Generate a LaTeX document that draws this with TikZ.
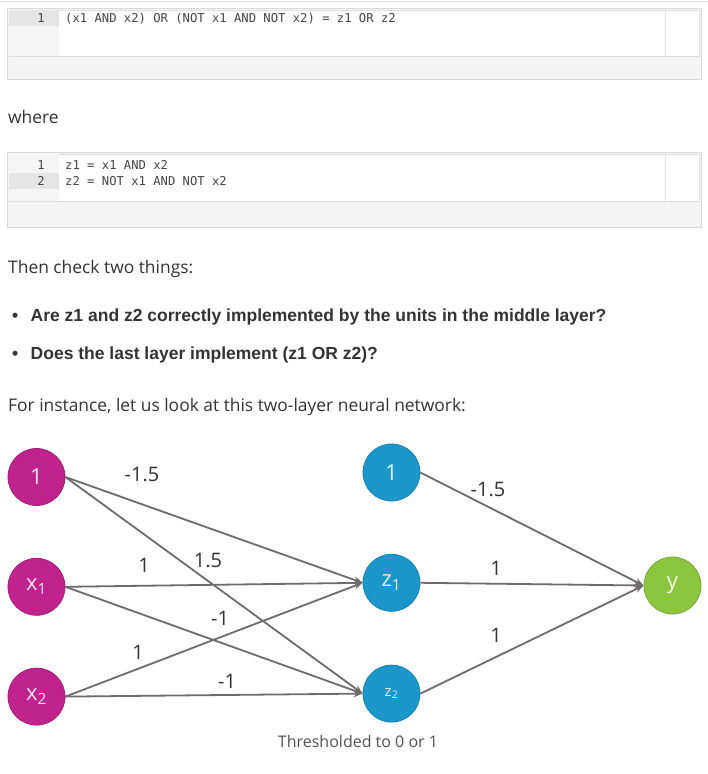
\documentclass[tikz,border=0pt]{standalone}
\usepackage{fontspec}
\setmainfont{Open Sans}
\newfontfamily\bulletfont{Liberation Sans}
\newfontfamily\codefont{DejaVu Sans Mono}
\usepackage{xcolor}
\usetikzlibrary{positioning,arrows.meta}
\definecolor{inpink}{HTML}{C0238E}
\definecolor{hidblue}{HTML}{1C97CB}
\definecolor{outgreen}{HTML}{8CC63E}
\definecolor{edgegray}{HTML}{6F6B6C}
\definecolor{txtgray}{HTML}{333333}
\definecolor{codegray}{HTML}{444444}

\begin{document}
\begin{tikzpicture}[x=1pt,y=-1pt,
 inp/.style={circle,fill=inpink,draw=inpink!85!black,line width=0.8pt,minimum size=57pt,inner sep=0pt,
             text=white!88!inpink,font=\fontsize{22}{24}\selectfont},
 hid/.style={inp,fill=hidblue,draw=hidblue!85!black,text=white!85!hidblue},
 outnode/.style={inp,fill=outgreen,draw=outgreen!85!black,text=white!90!outgreen},
 arr/.style={-{Stealth[length=9pt,width=7pt]},line width=1.8pt,draw=edgegray},
 wt/.style={font=\fontsize{20}{22}\selectfont,text=txtgray,inner sep=0pt},
 body/.style={font=\fontsize{17.4}{20}\selectfont,text=txtgray,inner sep=0pt,anchor=base west},
 bullet/.style={font=\bulletfont\bfseries\fontsize{17.5}{20}\selectfont,text=txtgray,inner sep=0pt,anchor=base west},
 code/.style={font=\codefont\fontsize{12.2}{14}\selectfont,text=codegray,inner sep=0pt,anchor=base west},
 lnum/.style={code,anchor=base east},
 box/.style={draw=gray!30,fill=gray!9,line width=0.8pt},
 pane/.style={draw=gray!25,fill=white,line width=0.8pt}
]
\useasboundingbox[fill=white] (0,0) rectangle (708,774);
\draw[gray!25,line width=0.8pt] (0,1) -- (708,1);

% code blocks
\draw[box] (7,8) rectangle (701,79);
\draw[pane] (9,10) rectangle (699,56);
\fill[gray!8] (9.4,10.4) rectangle (59,55.6);
\fill[gray!20] (9.4,10.4) rectangle (59,26);
\draw[gray!25,line width=0.8pt] (665,10) -- (665,56);
\node[lnum] (n1) at (45,22) {1};
\node[code] (c1) at (65,22) {(x1 AND x2) OR (NOT x1 AND NOT x2) = z1 OR z2};

\node[body] (where) at (8,123) {where};

\draw[box] (7,152) rectangle (701,227);
\draw[pane] (9,154) rectangle (699,201);
\fill[gray!8] (9.4,154.4) rectangle (59,200.6);
\fill[gray!20] (9.4,173) rectangle (59,189);
\draw[gray!25,line width=0.8pt] (665,154) -- (665,201);
\node[lnum] (n2) at (45,169) {1};
\node[lnum] (n3) at (45,185) {2};
\node[code] (c2) at (65,169) {z1 = x1 AND x2};
\node[code] (c3) at (65,185) {z2 = NOT x1 AND NOT x2};

\node[body] (then) at (8,273) {Then check two things:};
\node[bullet] (b1) at (12,321) {\textbullet};
\node[bullet,right=12pt of b1.base east,anchor=base west] (q1) {Are z1 and z2 correctly implemented by the units in the middle layer?};
\node[bullet] (b2) at (12,359) {\textbullet};
\node[bullet,right=12pt of b2.base east,anchor=base west] (q2) {Does the last layer implement (z1 OR z2)?};
\node[body] (inst) at (8,411) {For instance, let us look at this two-layer neural network:};

% network
\node[inp] (one) at (36.5,477) {1};
\node[inp,below=52pt of one] (x1) {x\textsubscript{1}};
\node[inp,below=52pt of x1] (x2) {x\textsubscript{2}};
\node[hid] (hone) at (391.5,472.5) {1};
\node[hid,below=52.5pt of hone] (z1) {z\textsubscript{1}};
\node[hid,below=53pt of z1,font=\fontsize{15}{17}\selectfont] (z2) {z\textsubscript{2}};
\node[outnode] (y) at (672.5,585.5) {y};

\draw[arr] (one.east)--(z1.west);
\draw[arr] (one.east)--(z2.west);
\draw[arr] (x1.east)--(z1.west);
\draw[arr] (x1.east)--(z2.west);
\draw[arr] (x2.east)--(z1.west);
\draw[arr] (x2.east)--(z2.west);
\draw[arr] (hone.east)--(y.west);
\draw[arr] (z1.east)--(y.west);
\draw[arr] (z2.east)--(y.west);

\node[wt] (w1) at (142,474) {-1.5};
\node[wt] (w2) at (144,565) {1};
\node[wt] (w3) at (208,560) {1.5};
\node[wt] (w4) at (220,618) {-1};
\node[wt] (w5) at (138,652) {1};
\node[wt] (w6) at (227,681) {-1};
\node[wt] (w7) at (488,489) {-1.5};
\node[wt] (w8) at (496,568) {1};
\node[wt] (w9) at (496,635) {1};

\node[body,anchor=base,text=txtgray!85,font=\fontsize{16}{19}\selectfont] (thr) at (358,747) {Thresholded to 0 or 1};
\end{tikzpicture}
\end{document}
